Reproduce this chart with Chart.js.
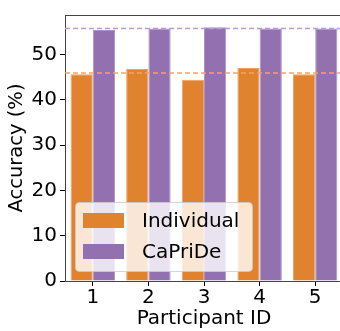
<!DOCTYPE html>
<html>
<head>
<meta charset="utf-8">
<script src="https://cdn.jsdelivr.net/npm/chart.js@4"></script>
<style>
  html, body { margin: 0; padding: 0; overflow: hidden; background: #fff; }
  #wrap { width: 346px; height: 331px; }
</style>
</head>
<body>
<div id="wrap"><canvas id="c"></canvas></div>
<script>
const participants = ['1', '2', '3', '4', '5'];
const individual = [45.6, 46.8, 44.4, 47.0, 45.6];
const capride = [55.4, 55.7, 56.0, 55.7, 55.7];
const yTicks = [0, 10, 20, 30, 40, 50];

const FONT = "'DejaVu Sans', sans-serif";
const ORANGE = '#e0822e';
const PURPLE = '#9371b0';

const mean = a => a.reduce((s, v) => s + v, 0) / a.length;

// dashed average lines + top spine
const extras = {
  id: 'extras',
  afterDatasetsDraw(chart) {
    const { ctx, chartArea: ca, scales: { y } } = chart;
    ctx.save();
    ctx.lineWidth = 1.5;
    ctx.setLineDash([5, 3]);
    [[individual, '#f4a263'], [capride, '#b89ad6']].forEach(([arr, col]) => {
      const py = y.getPixelForValue(mean(arr));
      ctx.strokeStyle = col;
      ctx.beginPath();
      ctx.moveTo(ca.left, py);
      ctx.lineTo(ca.right, py);
      ctx.stroke();
    });
    ctx.setLineDash([]);
    ctx.strokeStyle = '#444';
    ctx.lineWidth = 1;
    ctx.beginPath();
    ctx.moveTo(ca.left, Math.round(ca.top) + 0.5);
    ctx.lineTo(ca.right, Math.round(ca.top) + 0.5);
    ctx.stroke();
    ctx.restore();
  }
};

// legend inside the axes, lower left
const innerLegend = {
  id: 'innerLegend',
  afterDatasetsDraw(chart) {
    const { ctx, chartArea: ca } = chart;
    const x0 = ca.left + 10, w = 177, h = 69;
    const y0 = ca.bottom - 10 - h;
    ctx.save();
    ctx.fillStyle = 'rgba(255,255,255,0.8)';
    ctx.strokeStyle = 'rgba(204,204,204,0.8)';
    ctx.lineWidth = 1;
    ctx.beginPath();
    ctx.roundRect(x0 + 0.5, y0 + 0.5, w, h, 4);
    ctx.fill();
    ctx.stroke();
    ctx.font = '20px ' + FONT;
    ctx.textBaseline = 'middle';
    chart.data.datasets.forEach((ds, i) => {
      const cy = y0 + 18.5 + i * 31;
      ctx.fillStyle = ds.backgroundColor;
      ctx.fillRect(x0 + 8, cy - 7.5, 41, 15);
      ctx.fillStyle = '#000';
      ctx.fillText(ds.label, x0 + 67, cy + 1);
    });
    ctx.restore();
  }
};

new Chart(document.getElementById('c'), {
  type: 'bar',
  data: {
    labels: participants,
    datasets: [
      { label: 'Individual', data: individual, backgroundColor: ORANGE, borderColor: '#eaa266', borderWidth: 1 },
      { label: 'CaPriDe', data: capride, backgroundColor: PURPLE, borderColor: '#ac93c8', borderWidth: 1 }
    ]
  },
  options: {
    responsive: true,
    maintainAspectRatio: false,
    animation: false,
    layout: { padding: { top: 5, right: 3, left: 0, bottom: 0 } },
    datasets: { bar: { categoryPercentage: 0.8, barPercentage: 1.0 } },
    plugins: { legend: { display: false }, tooltip: { enabled: false } },
    scales: {
      x: {
        offset: true,
        grid: { display: true, drawOnChartArea: false, offset: false, tickLength: 5, tickColor: '#000' },
        border: { display: true, color: '#444', width: 1 },
        ticks: { color: '#000', font: { family: FONT, size: 20 }, padding: 0, maxRotation: 0 },
        title: { display: true, text: 'Participant ID', color: '#000', font: { family: FONT, size: 20 }, padding: { top: -3, bottom: 0 } },
        afterFit(s) { s.height = 50; }
      },
      y: {
        min: 0,
        max: 58.7,
        afterBuildTicks(s) { s.ticks = yTicks.map(v => ({ value: v })); },
        grid: { display: true, drawOnChartArea: false, tickLength: 5, tickColor: '#000' },
        border: { display: true, color: '#444', width: 1 },
        ticks: { color: '#000', font: { family: FONT, size: 20 }, padding: 3 },
        title: { display: true, text: 'Accuracy (%)', color: '#000', font: { family: FONT, size: 19.5 }, padding: { top: 5, bottom: 0 } },
        afterFit(s) { s.width = 65; }
      }
    }
  },
  plugins: [extras, innerLegend]
});
</script>
</body>
</html>
